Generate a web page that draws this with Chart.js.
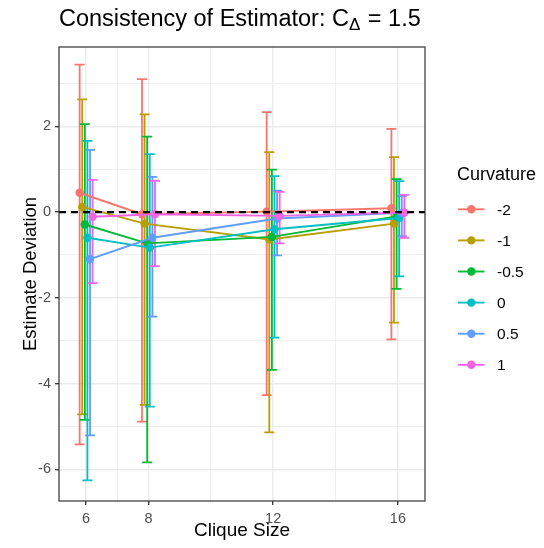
<!DOCTYPE html>
<html>
<head>
<meta charset="utf-8">
<script src="https://cdn.jsdelivr.net/npm/chart.js@4.4.1/dist/chart.umd.min.js"></script>
<style>
    html, body { margin: 0; padding: 0; background: #fff; }
</style>
</head>
<body>
<canvas id="consistencyChart" width="544" height="548"></canvas>
<script>
// Estimator consistency: mean deviation and interval per curvature and clique size

const cliqueSizes = [6, 8, 12, 16];
const curvatures = ['-2', '-1', '-0.5', '0', '0.5', '1'];
const seriesColors = ['#F8766D', '#B79F00', '#00BA38', '#00BFC4', '#619CFF', '#F564E3'];

// one row per curvature, one value per clique size
const meanDev = [
    [0.45, -0.05, 0.01, 0.09],
    [0.12, -0.27, -0.64, -0.27],
    [-0.29, -0.73, -0.58, -0.10],
    [-0.60, -0.83, -0.40, -0.14],
    [-1.10, -0.60, -0.15, -0.02],
    [-0.11, -0.05, -0.09, -0.01]
];
const upperDev = [
    [3.44, 3.10, 2.33, 1.94],
    [2.63, 2.28, 1.40, 1.28],
    [2.05, 1.76, 0.99, 0.77],
    [1.66, 1.35, 0.84, 0.72],
    [1.45, 0.82, 0.50, 0.37],
    [0.75, 0.73, 0.47, 0.40]
];
const lowerDev = [
    [-5.42, -4.89, -4.27, -2.97],
    [-4.72, -4.50, -5.14, -2.58],
    [-4.85, -5.84, -3.68, -1.79],
    [-6.26, -4.54, -2.93, -1.50],
    [-5.21, -2.44, -1.01, -0.56],
    [-1.66, -1.26, -0.73, -0.60]
];

const xTicks = [6, 8, 12, 16];
const xMinorTicks = [7, 10, 14];
const yTicks = [-6, -4, -2, 0, 2];
const yMinorTicks = [-5, -3, -1, 1, 3];

const FONT = '"Liberation Sans", Arial, Helvetica, sans-serif';
const dodgeWidth = 0.5;
const capHalf = 0.16;

const datasets = curvatures.map((label, i) => {
    const offset = (i - (curvatures.length - 1) / 2) * dodgeWidth / curvatures.length;
    return {
        label: label,
        data: cliqueSizes.map((size, j) => ({
            x: size + offset,
            y: meanDev[i][j],
            lo: lowerDev[i][j],
            hi: upperDev[i][j]
        })),
        borderColor: seriesColors[i],
        backgroundColor: seriesColors[i],
        pointBackgroundColor: seriesColors[i],
        pointBorderWidth: 0,
        pointRadius: 4.2,
        borderWidth: 1.9,
        tension: 0,
        order: curvatures.length - i
    };
});

// error bars, zero line, panel border, title and legend
const decorPlugin = {
    id: 'decor',
    beforeDatasetsDraw(chart) {
        const { ctx, scales: { x, y } } = chart;
        ctx.save();
        ctx.lineWidth = 1.8;
        chart.data.datasets.forEach((ds, i) => {
            ctx.strokeStyle = ds.borderColor;
            ds.data.forEach(p => {
                const px = x.getPixelForValue(p.x);
                const x0 = x.getPixelForValue(p.x - capHalf);
                const x1 = x.getPixelForValue(p.x + capHalf);
                const yLo = y.getPixelForValue(p.lo);
                const yHi = y.getPixelForValue(p.hi);
                ctx.beginPath();
                ctx.moveTo(px, yHi); ctx.lineTo(px, yLo);
                ctx.moveTo(x0, yHi); ctx.lineTo(x1, yHi);
                ctx.moveTo(x0, yLo); ctx.lineTo(x1, yLo);
                ctx.stroke();
            });
        });
        ctx.restore();
    },
    afterDatasetsDraw(chart) {
        const { ctx, chartArea: a, scales: { y } } = chart;
        ctx.save();
        const y0 = y.getPixelForValue(0);
        ctx.strokeStyle = '#000';
        ctx.lineWidth = 2.2;
        ctx.setLineDash([7, 5]);
        ctx.beginPath();
        ctx.moveTo(a.left, y0); ctx.lineTo(a.right, y0);
        ctx.stroke();
        ctx.setLineDash([]);
        ctx.strokeStyle = '#333333';
        ctx.lineWidth = 1.2;
        ctx.strokeRect(a.left, a.top, a.right - a.left, a.bottom - a.top);
        ctx.restore();
    },
    afterDraw(chart) {
        const { ctx, chartArea: a } = chart;
        ctx.save();
        ctx.fillStyle = '#000';
        ctx.textBaseline = 'alphabetic';
        ctx.textAlign = 'left';

        // title with subscripted delta
        let tx = a.left;
        const ty = 26;
        ctx.font = '23.5px ' + FONT;
        const head = 'Consistency of Estimator: C';
        ctx.fillText(head, tx, ty);
        tx += ctx.measureText(head).width;
        ctx.font = '17px ' + FONT;
        ctx.fillText('\u0394', tx, ty + 4);
        tx += ctx.measureText('\u0394').width + 1;
        ctx.font = '23.5px ' + FONT;
        ctx.fillText(' = 1.5', tx, ty);

        // legend
        const lx = 457;
        ctx.font = '18px ' + FONT;
        ctx.fillText('Curvature', lx, 180);
        ctx.font = '15.5px ' + FONT;
        ctx.textBaseline = 'middle';
        chart.data.datasets.forEach((ds, i) => {
            const ry = 209.3 + i * 31.1;
            ctx.strokeStyle = ds.borderColor;
            ctx.lineWidth = 1.9;
            ctx.beginPath();
            ctx.moveTo(458, ry); ctx.lineTo(484.5, ry);
            ctx.stroke();
            ctx.fillStyle = ds.borderColor;
            ctx.beginPath();
            ctx.arc(471.3, ry, 4.2, 0, Math.PI * 2);
            ctx.fill();
            ctx.fillStyle = '#000';
            ctx.fillText(ds.label, 497, ry + 1);
        });
        ctx.restore();
    }
};

const gridLine = (majors) => ({
    color: '#EBEBEB',
    lineWidth: c => majors.includes(c.tick.value) ? 1.4 : 0.8,
    tickColor: c => majors.includes(c.tick.value) ? '#333333' : 'rgba(0,0,0,0)',
    tickWidth: 1.3,
    tickLength: 4,
    drawOnChartArea: true
});

new Chart(document.getElementById('consistencyChart'), {
    type: 'line',
    data: { datasets: datasets },
    options: {
        responsive: false,
        animation: false,
        devicePixelRatio: 1,
        layout: { padding: { left: 0, right: 119, top: 47, bottom: 0 } },
        plugins: {
            legend: { display: false },
            title: { display: false },
            tooltip: { enabled: false }
        },
        scales: {
            x: {
                type: 'linear',
                min: 5.13,
                max: 16.87,
                afterBuildTicks: scale => {
                    scale.ticks = xTicks.concat(xMinorTicks).sort((a, b) => a - b).map(v => ({ value: v }));
                },
                afterFit: scale => { scale.height = 47; },
                grid: gridLine(xTicks),
                border: { display: false },
                ticks: {
                    autoSkip: false,
                    maxRotation: 0,
                    padding: 5,
                    color: '#4D4D4D',
                    font: { family: FONT, size: 14.5 },
                    callback: v => xTicks.includes(v) ? String(v) : ''
                },
                title: {
                    display: true,
                    text: 'Clique Size',
                    color: '#000',
                    font: { family: FONT, size: 19 },
                    padding: { top: 0, bottom: 6 }
                }
            },
            y: {
                type: 'linear',
                min: -6.74,
                max: 3.85,
                afterBuildTicks: scale => {
                    scale.ticks = yTicks.concat(yMinorTicks).sort((a, b) => a - b).map(v => ({ value: v }));
                },
                afterFit: scale => { scale.width = 59; },
                grid: gridLine(yTicks),
                border: { display: false },
                ticks: {
                    autoSkip: false,
                    padding: 4,
                    color: '#4D4D4D',
                    font: { family: FONT, size: 14.5 },
                    callback: v => yTicks.includes(v) ? String(v) : ''
                },
                title: {
                    display: true,
                    text: 'Estimate Deviation',
                    color: '#000',
                    font: { family: FONT, size: 18.5 },
                    padding: { top: 20, bottom: 0 }
                }
            }
        }
    },
    plugins: [decorPlugin]
});
</script>
</body>
</html>
